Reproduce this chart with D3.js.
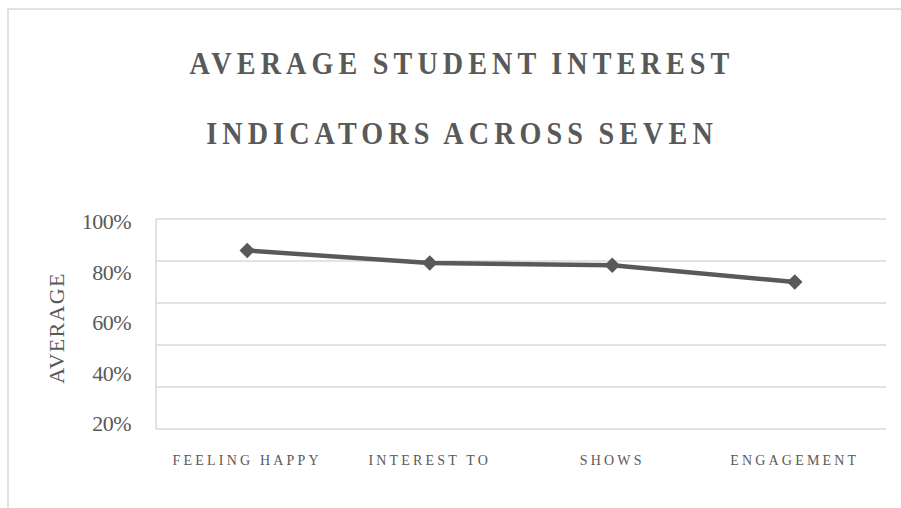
<!DOCTYPE html>
<html>
<head>
<meta charset="utf-8">
<script src="https://cdn.jsdelivr.net/npm/d3@7/dist/d3.min.js"></script>
<style>
  html, body { margin: 0; padding: 0; background: #fff; }
  svg { display: block; }
  text { font-family: "Liberation Serif", "Times New Roman", serif; fill: #595959; }
</style>
</head>
<body>
<div id="chart"></div>
<script>
// ---- data ----
const titleLines = ["AVERAGE STUDENT INTEREST", "INDICATORS ACROSS SEVEN"];
const categories = ["FEELING HAPPY", "INTEREST TO", "SHOWS", "ENGAGEMENT"];
const values = [0.85, 0.79, 0.78, 0.70];
const gridTicks = [0, 0.2, 0.4, 0.6, 0.8, 1.0];
const tickLabels = ["100%", "80%", "60%", "40%", "20%"];
const yAxisTitle = "AVERAGE";

// ---- layout ----
const W = 901, H = 508;
const plot = { left: 156, right: 886, top: 219, bottom: 429 };

const svg = d3.select("#chart").append("svg")
  .attr("width", W).attr("height", H);

svg.append("rect").attr("width", W).attr("height", H).attr("fill", "#fff");

// outer chart border (only top/left visible in the frame)
svg.append("rect")
  .attr("x", 8).attr("y", 9)
  .attr("width", W + 20).attr("height", H + 20)
  .attr("fill", "none")
  .attr("stroke", "#d9d9d9")
  .attr("stroke-width", 1.5);

// title
const titleG = svg.append("g");
titleG.selectAll("text").data(titleLines).join("text")
  .attr("transform", (d, i) => `translate(462,${74 + i * 70}) scale(0.88,1)`)
  .attr("text-anchor", "middle")
  .attr("font-size", 32)
  .attr("font-weight", "bold")
  .attr("letter-spacing", 5.8)
  .attr("word-spacing", -2)
  .text(d => d);

// scales
const x = d3.scaleBand().domain(categories).range([plot.left, plot.right]);
const y = d3.scaleLinear().domain([0, 1]).range([plot.bottom, plot.top]);
const yLab = d3.scalePoint().domain(tickLabels).range([229, 431]);

// gridlines
svg.append("g").selectAll("line").data(gridTicks).join("line")
  .attr("x1", plot.left).attr("x2", plot.right)
  .attr("y1", d => y(d)).attr("y2", d => y(d))
  .attr("stroke", "#d9d9d9").attr("stroke-width", 1.5);

// left axis line
svg.append("line")
  .attr("x1", plot.left).attr("x2", plot.left)
  .attr("y1", y(1)).attr("y2", y(0))
  .attr("stroke", "#d9d9d9").attr("stroke-width", 1.5);

// y tick labels
svg.append("g").selectAll("text").data(tickLabels).join("text")
  .attr("x", 131).attr("y", d => yLab(d))
  .attr("text-anchor", "end")
  .attr("font-size", 22)
  .attr("letter-spacing", -0.5)
  .text(d => d);

// y axis title
svg.append("text")
  .attr("transform", "translate(64,328) rotate(-90)")
  .attr("text-anchor", "middle")
  .attr("font-size", 22)
  .attr("letter-spacing", 1.3)
  .text(yAxisTitle);

// x labels
svg.append("g").selectAll("text").data(categories).join("text")
  .attr("x", d => x(d) + x.bandwidth() / 2)
  .attr("y", 464.5)
  .attr("text-anchor", "middle")
  .attr("font-size", 14)
  .attr("letter-spacing", 3.2)
  .text(d => d);

// line
const pts = categories.map((c, i) => [x(c) + x.bandwidth() / 2, y(values[i])]);
svg.append("path")
  .attr("d", d3.line()(pts))
  .attr("fill", "none")
  .attr("stroke", "#595959")
  .attr("stroke-width", 4.5)
  .attr("stroke-linejoin", "round");

// diamond markers
const sym = d3.symbol().type(d3.symbolSquare).size(120);
svg.append("g").selectAll("path").data(pts).join("path")
  .attr("d", sym)
  .attr("transform", d => `translate(${d[0]},${d[1]}) rotate(45)`)
  .attr("fill", "#595959");
</script>
</body>
</html>
